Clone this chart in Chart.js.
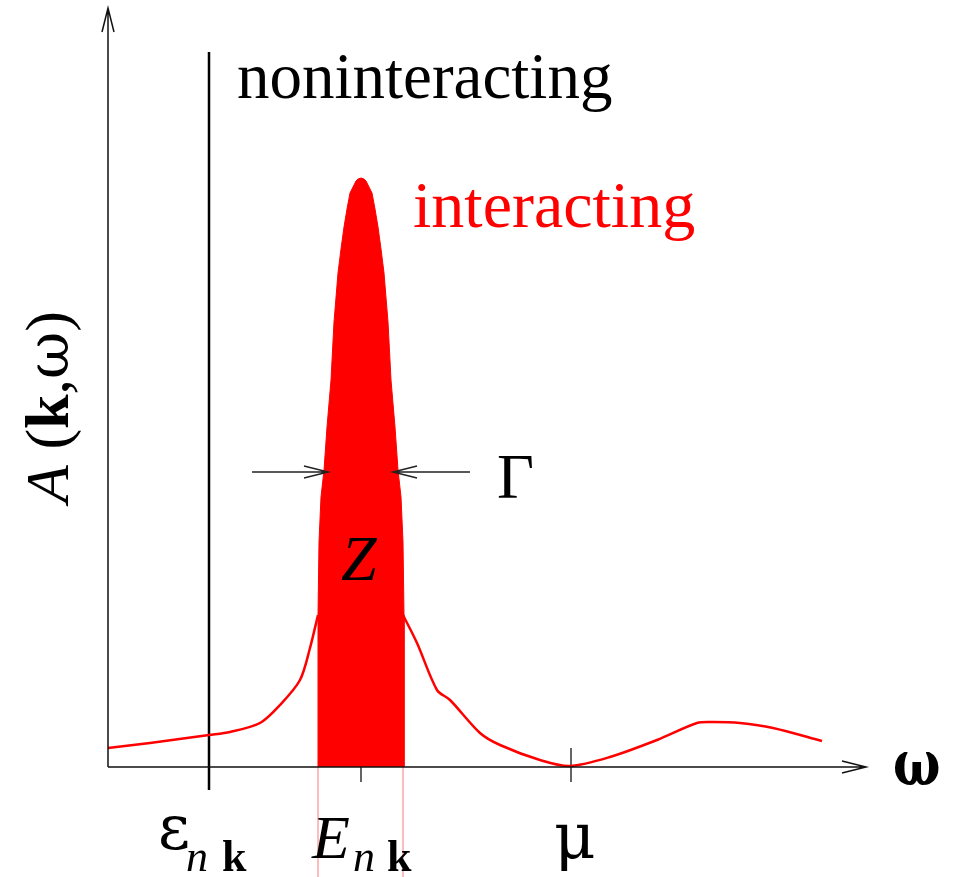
<!DOCTYPE html>
<html>
<head>
<meta charset="utf-8">
<script src="https://cdn.jsdelivr.net/npm/chart.js@4.4.0/dist/chart.umd.min.js"></script>
<style>
  html, body { margin: 0; padding: 0; background: #ffffff; }
  #wrap { width: 953px; height: 877px; }
</style>
</head>
<body>
<div id="wrap"><canvas id="spectral" width="953" height="877"></canvas></div>
<script>
// Spectral function sketch: noninteracting delta peak vs interacting quasiparticle peak
// Units are arbitrary; origin is where the two axes cross.

// interacting spectral curve (null splits it where the filled peak sits)
const curveX = [0, 42, 101, 122, 152, 172, 192, 202, 210, null, 295, 309, 329, 342, 372, 392, 432, 462, 502, 549, 589, 605, 632, 665, 714];
const curveY = [19, 24, 32, 35, 44, 62, 87, 119, 152, null, 152, 124, 77, 67, 34, 22, 7, 1, 10, 27, 44, 45, 44, 39, 26];

// quasiparticle peak (weight Z), filled down to the axis
const peakX = [210, 210, 211, 213, 216, 219, 223, 226, 230, 233, 236, 239, 242, 244, 246, 248, 250,
               253, 256, 258, 260, 262, 264, 267, 270, 273, 276, 280, 283, 287, 290, 293, 295, 296, 296];
const peakY = [0, 152, 225, 270, 297, 340, 387, 445, 494, 518, 540, 558, 574, 578, 582, 586, 588,
               589, 588, 586, 582, 578, 574, 558, 540, 518, 494, 445, 387, 340, 297, 270, 225, 152, 0];

// noninteracting delta function at eps_nk
const deltaX = [101, 101];
const deltaY = [-23, 715];

// tick marks at E_nk and mu
const tickX = [253, 253, null, 463, 463];
const tickY = [-15, 19, null, -15, 19];

// faint guides under the peak edges
const guideX = [210, 210, null, 295, 295];
const guideY = [0, -110, null, 0, -110];

const toPoints = (xs, ys) => xs.map((x, i) => ({ x: x, y: x === null ? null : ys[i] }));

const SERIF = "'Liberation Serif', 'DejaVu Serif', serif";
const GREEK = "'DejaVu Serif', serif";

// draws axes, arrows and all the math labels
const sketchPlugin = {
  id: 'sketch',
  afterDatasetsDraw(chart) {
    const ctx = chart.ctx;
    const xs = chart.scales.x, ys = chart.scales.y;
    const px = v => xs.getPixelForValue(v);
    const py = v => ys.getPixelForValue(v);

    function arrow(x1, y1, x2, y2, color, width) {
      const a = Math.atan2(y2 - y1, x2 - x1);
      const len = 24, half = 6;
      ctx.save();
      ctx.strokeStyle = color;
      ctx.lineWidth = width;
      ctx.beginPath();
      ctx.moveTo(x1, y1);
      ctx.lineTo(x2, y2);
      const bx = x2 - len * Math.cos(a), by = y2 - len * Math.sin(a);
      ctx.moveTo(bx + half * Math.sin(a), by - half * Math.cos(a));
      ctx.lineTo(x2, y2);
      ctx.lineTo(bx - half * Math.sin(a), by + half * Math.cos(a));
      ctx.stroke();
      ctx.restore();
    }

    // axes
    arrow(px(0), py(0), px(758), py(0), '#111', 1.5);
    arrow(px(0), py(0), px(0), py(759), '#111', 1.5);

    // width arrows (Gamma)
    arrow(px(144), py(295), px(220), py(295), '#222', 1.5);
    arrow(px(362), py(295), px(285), py(295), '#222', 1.5);

    function text(str, x, y, font, color, squeeze) {
      ctx.save();
      ctx.font = font;
      ctx.fillStyle = color || '#000';
      ctx.textAlign = 'left';
      ctx.textBaseline = 'alphabetic';
      ctx.translate(px(x), py(y));
      ctx.scale(squeeze || 1, 1);
      ctx.fillText(str, 0, 0);
      ctx.restore();
    }

    text('noninteracting', 129, 669, '65px ' + SERIF);
    text('interacting', 305, 540, '66px ' + SERIF, '#ff0000');
    text('\u0393', 389, 269, '64px ' + SERIF);
    text('Z', 233, 187, 'italic 64px ' + SERIF);
    text('\u03c9', 785, -18, 'bold 64px ' + GREEK, '#000', 0.78);

    // eps_nk
    text('\u03b5', 50, -82, '62px ' + GREEK);
    text('n', 78, -104, 'italic 44px ' + SERIF);
    text('k', 114, -104, 'bold 44px ' + SERIF);
    // E_nk
    text('E', 204, -91, 'italic 62px ' + SERIF);
    text('n', 245, -104, 'italic 44px ' + SERIF);
    text('k', 279, -104, 'bold 44px ' + SERIF);
    // mu
    text('\u03bc', 446, -91, '64px ' + GREEK);

    // y label A(k,w), rotated
    const parts = [
      ['A', 'italic 62px ' + SERIF],
      [' (', '62px ' + SERIF],
      ['k', 'bold 62px ' + SERIF],
      [',', '62px ' + SERIF],
      ['\u03c9', '58px ' + GREEK],
      [')', '62px ' + SERIF]
    ];
    ctx.save();
    let total = 0;
    parts.forEach(p => { ctx.font = p[1]; total += ctx.measureText(p[0]).width; });
    ctx.translate(px(-40), py(360));
    ctx.rotate(-Math.PI / 2);
    ctx.fillStyle = '#000';
    ctx.textBaseline = 'alphabetic';
    let cx = -total / 2;
    parts.forEach(p => {
      ctx.font = p[1];
      ctx.fillText(p[0], cx, 0);
      cx += ctx.measureText(p[0]).width;
    });
    ctx.restore();
  }
};

new Chart(document.getElementById('spectral').getContext('2d'), {
  type: 'line',
  data: {
    datasets: [
      {
        label: 'guides',
        data: toPoints(guideX, guideY),
        borderColor: 'rgba(255, 0, 0, 0.2)',
        borderWidth: 1,
        pointRadius: 0,
        spanGaps: false,
        fill: false
      },
      {
        label: 'peak',
        data: toPoints(peakX, peakY),
        borderColor: '#ff0000',
        backgroundColor: '#ff0000',
        borderWidth: 1,
        pointRadius: 0,
        tension: 0,
        fill: 'origin'
      },
      {
        label: 'interacting',
        data: toPoints(curveX, curveY),
        borderColor: '#ff0000',
        borderWidth: 2.5,
        pointRadius: 0,
        tension: 0.3,
        spanGaps: false,
        fill: false
      },
      {
        label: 'noninteracting',
        data: toPoints(deltaX, deltaY),
        borderColor: '#000000',
        borderWidth: 2.5,
        pointRadius: 0,
        fill: false
      },
      {
        label: 'ticks',
        data: toPoints(tickX, tickY),
        borderColor: '#333333',
        borderWidth: 1.5,
        pointRadius: 0,
        spanGaps: false,
        fill: false
      }
    ]
  },
  options: {
    responsive: false,
    animation: false,
    layout: { padding: 0 },
    plugins: {
      legend: { display: false },
      tooltip: { enabled: false }
    },
    scales: {
      x: { type: 'linear', min: -108, max: 845, display: false },
      y: { type: 'linear', min: -110, max: 767, display: false }
    }
  },
  plugins: [sketchPlugin]
});
</script>
</body>
</html>
